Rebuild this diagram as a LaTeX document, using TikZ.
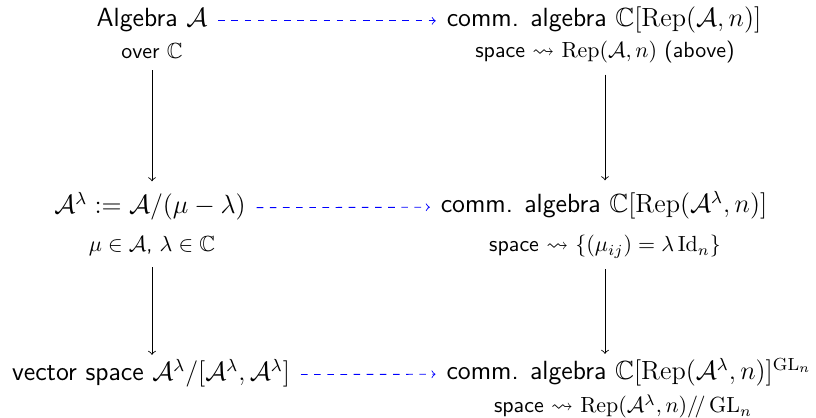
\documentclass[tikz,border=0pt]{standalone}
\usepackage{amsmath,amssymb}
\usetikzlibrary{positioning}

\begin{document}
\begin{tikzpicture}[
        x=0.01604cm, y=-0.01604cm,
        obj/.style={font=\sffamily\large, anchor=base, text height=1.6ex, text depth=0.3ex},
        note/.style={font=\sffamily, anchor=base},
        map/.style={->, shorten <=1.5pt},
        induced/.style={->, dashed, blue, shorten <=1.5pt, shorten >=1.5pt}
      ]
        \useasboundingbox (0,0) rectangle (816,418);
        % left column
        \node[obj]  (alg)  at (152,27)  {Algebra $\mathcal{A}$};
        \node[note] (over) at (152,59)  {over $\mathbb{C}$};
        \node[obj]  (quot) at (150,214) {$\mathcal{A}^\lambda := \mathcal{A}/(\mu-\lambda)$};
        \node[note] (cond) at (152,252) {$\mu\in\mathcal{A}$, $\lambda\in\mathbb{C}$};
        \node[obj]  (vsp)  at (151,381) {vector space $\mathcal{A}^\lambda/[\mathcal{A}^\lambda,\mathcal{A}^\lambda]$};
        % right column
        \node[obj]  (rep)    at (604,27)  {comm. algebra $\mathbb{C}[\operatorname{Rep}(\mathcal{A},n)]$};
        \node[note] (repsp)  at (605,58)  {space $\rightsquigarrow$ $\operatorname{Rep}(\mathcal{A},n)$ (above)};
        \node[obj]  (replam) at (604,213) {comm. algebra $\mathbb{C}[\operatorname{Rep}(\mathcal{A}^\lambda,n)]$};
        \node[note] (fibre)  at (605,252) {space $\rightsquigarrow$ $\{(\mu_{ij})=\lambda\operatorname{Id}_n\}$};
        \node[obj]  (inv)    at (629,380) {comm. algebra $\mathbb{C}[\operatorname{Rep}(\mathcal{A}^\lambda,n)]^{\operatorname{GL}_n}$};
        \node[note] (quotsp) at (623,413) {space $\rightsquigarrow$ $\operatorname{Rep}(\mathcal{A}^\lambda,n)/\!/\operatorname{GL}_n$};
        % arrows
        \draw[map, shorten >=4.5pt] (over.south) -- (over.south |- quot.north);
        \draw[map, shorten >=1.5pt] (cond.south) -- (cond.south |- vsp.north);
        \draw[map, shorten >=4.5pt] (repsp.south) -- (repsp.south |- replam.north);
        \draw[map, shorten >=1.5pt] (fibre.south) -- (fibre.south |- inv.north);
        \draw[induced] (alg) -- (rep);
        \draw[induced] (quot) -- (replam);
        \draw[induced] (vsp) -- (inv);
      \end{tikzpicture}
\end{document}
